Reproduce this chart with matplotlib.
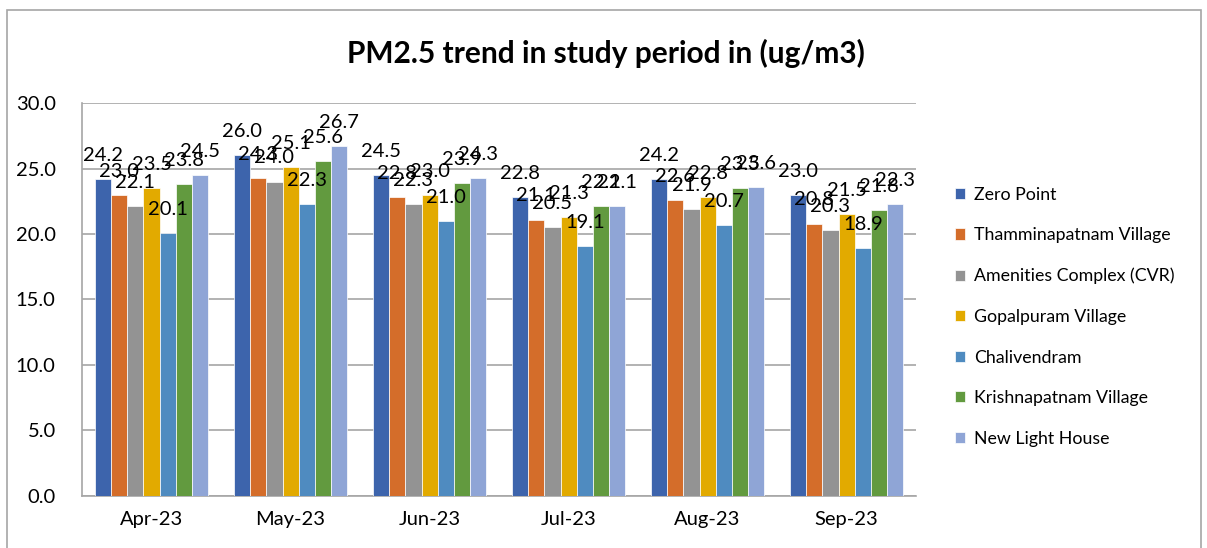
import numpy as np
import matplotlib.pyplot as plt
from matplotlib.patches import Rectangle

plt.rcParams['font.family'] = ['Lato', 'DejaVu Sans']

# data
months = ['Apr-23', 'May-23', 'Jun-23', 'Jul-23', 'Aug-23', 'Sep-23']
stations = ['Zero Point', 'Thamminapatnam Village', 'Amenities Complex (CVR)',
            'Gopalpuram Village', 'Chalivendram', 'Krishnapatnam Village',
            'New Light House']
zero_point = [24.2, 26.0, 24.5, 22.8, 24.2, 23.0]
thamminapatnam = [23.0, 24.3, 22.8, 21.1, 22.6, 20.8]
amenities = [22.1, 24.0, 22.3, 20.5, 21.9, 20.3]
gopalpuram = [23.5, 25.1, 23.0, 21.3, 22.8, 21.5]
chalivendram = [20.1, 22.3, 21.0, 19.1, 20.7, 18.9]
krishnapatnam = [23.8, 25.6, 23.9, 22.1, 23.5, 21.8]
light_house = [24.5, 26.7, 24.3, 22.1, 23.6, 22.3]

series = [zero_point, thamminapatnam, amenities, gopalpuram,
          chalivendram, krishnapatnam, light_house]
colors = ['#3D64AC', '#D46D2A', '#939393', '#E2AA00',
          '#4F8BC0', '#629A3F', '#8FA5D6']

fig = plt.figure(figsize=(12.07, 5.48), dpi=100)
ax = fig.add_axes([0.068, 0.095, 0.691, 0.717])

# outer frame of the chart
fig.patches.append(Rectangle((0.006, -0.05), 0.989, 1.032, transform=fig.transFigure,
                             fill=False, edgecolor='#A6A6A6', linewidth=1.2))

x = np.arange(len(months))
w = 0.1163
bars = []
for i, vals in enumerate(series):
    pos = x + (i - 3) * w
    b = ax.bar(pos, vals, w, color=colors[i], edgecolor='white', linewidth=0.5,
               label=stations[i], zorder=3)
    bars.append(b)
    for px, v in zip(pos, vals):
        ax.annotate(f'{v:.1f}', (px, v), xytext=(0, 17), textcoords='offset points',
                    ha='center', va='center', fontsize=14.5, color='black', zorder=5)

ax.set_xlim(-0.5, len(months) - 0.5)
ax.set_ylim(0, 30)
ax.set_yticks(np.arange(0, 31, 5))
ax.set_yticklabels([f'{t:.1f}' for t in np.arange(0, 31, 5)])
ax.set_xticks(x)
ax.set_xticklabels(months)
ax.tick_params(axis='both', length=0, labelsize=14.5)
ax.tick_params(axis='y', pad=19)
ax.tick_params(axis='x', pad=11)
ax.yaxis.grid(True, color='#A6A6A6', linewidth=1.2, zorder=0)
ax.set_axisbelow(True)
for s in ['top', 'right']:
    ax.spines[s].set_visible(False)
ax.spines['left'].set_color('#A6A6A6')
ax.spines['bottom'].set_color('#A6A6A6')
ax.spines['left'].set_linewidth(1.2)
ax.spines['bottom'].set_linewidth(1.2)

fig.text(0.502, 0.903, 'PM2.5 trend in study period in (ug/m3)', ha='center', va='center',
         fontsize=21.5, fontweight='bold')

ax.legend(handles=bars, loc='upper left', bbox_to_anchor=(0.791, 0.659),
          bbox_transform=fig.transFigure, frameon=False, fontsize=12.8,
          handlelength=0.6, handleheight=0.6, handletextpad=0.5, labelspacing=1.38,
          borderaxespad=0, borderpad=0)

fig.savefig('out.png', dpi=100)
